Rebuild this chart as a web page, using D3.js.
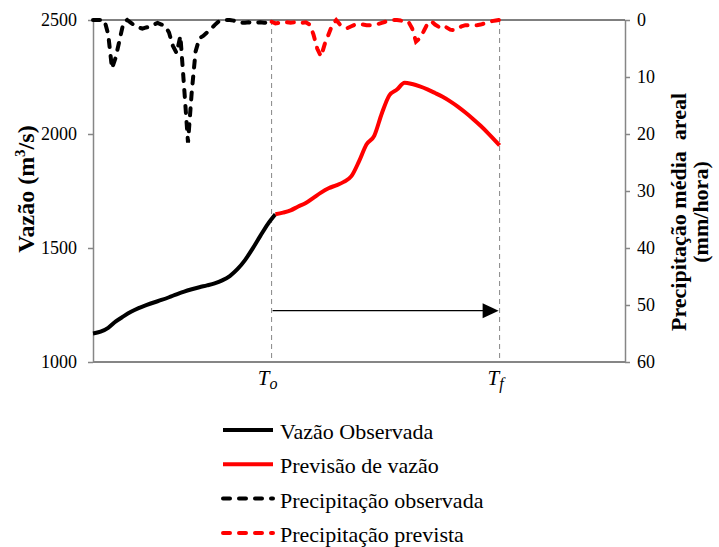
<!DOCTYPE html>
<html>
<head>
<meta charset="utf-8">
<script src="https://cdn.jsdelivr.net/npm/d3@7"></script>
<style>
  body { margin: 0; background: #fff; }
</style>
</head>
<body>
<div id="chart"></div>
<script>
var serif = "'Liberation Serif', 'Times New Roman', Times, serif"

// hours of the event (To = 47 h, Tf = 107 h)
var tStart = 47
var tEnd = 107

// observed areal rainfall, one value per hour from 0 to 47 (mm/hora)
var obsPrecip = [0, 0, 0, 0, 2.5, 8.5, 6.5, 3.5, 0.5, 0,
  0.5, 1, 1.3, 1.5, 1.3, 1.2, 0.8, 0.5, 0.8, 1,
  2.2, 4.5, 5.8, 2.8, 12, 21.5, 12.5, 5.5, 3.2, 2.8,
  2.2, 1.6, 0.9, 0.3, 0, 0, 0, 0.1, 0.4, 0.5,
  0.5, 0.4, 0.5, 0.5, 0.4, 0.5, 0.4, 0.2]

// forecast areal rainfall, one value per hour from 47 to 107
var prevPrecip = [0.3, 0.6, 0.5, 0.3, 0.4, 0.5, 0.4, 0.3, 0.5, 0.4,
  0.8, 2.5, 5, 6.4, 4.2, 2.5, 0.8, 0, 0.8, 1.3,
  1.4, 1.1, 0.8, 0.7, 0.8, 0.9, 0.9, 0.8, 0.7, 0.5,
  0.3, 0.2, 0, 0, 0.1, 0.2, 0.3, 1.5, 3.8, 3.2,
  2, 0.7, 0.2, 0.8, 1.2, 0.9, 1.3, 1.7, 1.8, 1.5,
  1.1, 0.9, 0.9, 0.9, 0.9, 0.8, 0.6, 0.4, 0.2, 0.1, 0]

// observed discharge (m3/s)
var obsHours = [0, 2, 4, 6, 8, 10, 12, 14, 16, 18, 20, 22, 24, 26, 28, 30, 32, 34, 36, 38, 40, 42, 44, 46, 48]
var obsFlow = [1125, 1133, 1150, 1178, 1200, 1220, 1236, 1249, 1261, 1272, 1284, 1297, 1309, 1319, 1328, 1336, 1345, 1358, 1377, 1407, 1447, 1497, 1552, 1605, 1648]

// forecast discharge (m3/s)
var prevHours = [48, 50, 52, 54, 56, 58, 60, 62, 64, 66, 68, 70, 72, 74, 76, 78, 80, 82, 84, 86, 88, 90, 92, 94, 96, 98, 100, 102, 104, 106, 107]
var prevFlow = [1648, 1655, 1665, 1682, 1697, 1720, 1743, 1762, 1775, 1790, 1815, 1880, 1955, 1992, 2090, 2170, 2195, 2225, 2219, 2209, 2196, 2180, 2163, 2143, 2120, 2094, 2066, 2036, 2003, 1968, 1950]

var flowTicks = [1000, 1500, 2000, 2500]
var precipTicks = [0, 10, 20, 30, 40, 50, 60]
var arrowLevel = 51

var legendItems = [
  {label: "Vazão Observada", color: "#000", dash: null},
  {label: "Previsão de vazão", color: "#ff0000", dash: null},
  {label: "Precipitação observada", color: "#000", dash: "7,9"},
  {label: "Precipitação prevista", color: "#ff0000", dash: "7,9"}
]

var margin = {top: 20, right: 94, bottom: 185, left: 93},
    width = 719 - margin.left - margin.right,
    height = 547 - margin.top - margin.bottom

var svg = d3.select("#chart")
.append("svg")
.attr("width", 719)
.attr("height", 547)
.style("font-family", serif)

var chart = svg.append("g")
.attr("transform", "translate(" + margin.left + "," + margin.top + ")")

var x = d3.scaleLinear()
.domain([0, 140])
.range([0, width])

var yFlow = d3.scaleLinear()
.domain([1000, 2500])
.range([height, 0])

var yPrec = d3.scaleLinear()
.domain([0, 60])
.range([0, height])

// left axis
var leftAxis = chart.append("g")
.call(d3.axisLeft(yFlow).tickValues(flowTicks).tickFormat(d3.format("d"))
  .tickSize(5).tickSizeOuter(0).tickPadding(11))
leftAxis.select(".domain").attr("stroke", "#868686").attr("stroke-width", 1.5)
leftAxis.selectAll(".tick line").attr("stroke", "#868686").attr("stroke-width", 1.5)

// right axis
var rightAxis = chart.append("g")
.attr("transform", "translate(" + width + ",0)")
.call(d3.axisRight(yPrec).tickValues(precipTicks).tickFormat(d3.format("d"))
  .tickSize(5).tickSizeOuter(0).tickPadding(7))
rightAxis.select(".domain").attr("stroke", "#868686").attr("stroke-width", 1.5)
rightAxis.selectAll(".tick line").attr("stroke", "#868686").attr("stroke-width", 1.5)

chart.selectAll(".tick text")
.attr("fill", "#000")
.style("font-size", "18px")

// bottom axis line and top (precipitation) axis line
chart.append("line")
.attr("x1", 0).attr("x2", width)
.attr("y1", height).attr("y2", height)
.attr("stroke", "#868686")
.attr("stroke-width", 2)

chart.append("line")
.attr("x1", 0).attr("x2", width)
.attr("y1", yPrec(0)).attr("y2", yPrec(0))
.attr("stroke", "#000")
.attr("stroke-width", 1)

// To and Tf markers
chart.selectAll(".tmark")
.data([tStart, tEnd])
.enter()
.append("line")
.attr("class", "tmark")
.attr("x1", d => x(d)).attr("x2", d => x(d))
.attr("y1", 0).attr("y2", height)
.attr("stroke", "#868686")
.attr("stroke-width", 1)
.attr("stroke-dasharray", "5,4")

var tLabels = [{t: tStart, sub: "o"}, {t: tEnd, sub: "f"}]
tLabels.forEach(function(d) {
  var lab = chart.append("text")
  .attr("x", x(d.t) - 4)
  .attr("y", height + 23)
  .attr("text-anchor", "middle")
  .style("font-size", "21px")
  .style("font-style", "italic")
  lab.append("tspan").text("T")
  lab.append("tspan").attr("dy", 4).style("font-size", "16px").text(d.sub)
})

// arrow from To to Tf
chart.append("line")
.attr("x1", x(tStart) + 1)
.attr("x2", x(tEnd) - 14)
.attr("y1", yPrec(arrowLevel)).attr("y2", yPrec(arrowLevel))
.attr("stroke", "#000")
.attr("stroke-width", 1.2)

chart.append("path")
.attr("d", "M" + (x(tEnd) - 1) + "," + yPrec(arrowLevel)
  + "L" + (x(tEnd) - 17) + "," + (yPrec(arrowLevel) - 7.5)
  + "L" + (x(tEnd) - 17) + "," + (yPrec(arrowLevel) + 7.5) + "Z")
.attr("fill", "#000")

// precipitation lines
var precLine = d3.line()
.x(d => x(d.t))
.y(d => yPrec(d.v))

var obsPrecData = obsPrecip.map((v, i) => ({t: i, v: v}))
var prevPrecData = prevPrecip.map((v, i) => ({t: tStart + i, v: v}))

chart.append("path")
.datum(obsPrecData)
.attr("d", precLine)
.attr("fill", "none")
.attr("stroke", "#000")
.attr("stroke-width", 4)
.attr("stroke-linecap", "round")
.attr("stroke-dasharray", "7,9")

chart.append("path")
.datum(prevPrecData)
.attr("d", precLine)
.attr("fill", "none")
.attr("stroke", "#ff0000")
.attr("stroke-width", 4)
.attr("stroke-linecap", "round")
.attr("stroke-dasharray", "7,9")

// discharge lines
var flowLine = d3.line()
.x(d => x(d.t))
.y(d => yFlow(d.v))
.curve(d3.curveMonotoneX)

chart.append("path")
.datum(obsHours.map((t, i) => ({t: t, v: obsFlow[i]})))
.attr("d", flowLine)
.attr("fill", "none")
.attr("stroke", "#000")
.attr("stroke-width", 4)

chart.append("path")
.datum(prevHours.map((t, i) => ({t: t, v: prevFlow[i]})))
.attr("d", flowLine)
.attr("fill", "none")
.attr("stroke", "#ff0000")
.attr("stroke-width", 4)

// axis titles
var leftTitle = svg.append("text")
.attr("transform", "translate(34," + (margin.top + height / 2 - 2) + ") rotate(-90)")
.attr("text-anchor", "middle")
.style("font-size", "24px")
.style("font-weight", "bold")
leftTitle.append("tspan").text("Vazão (m")
leftTitle.append("tspan").attr("dy", -9).style("font-size", "15px").text("3")
leftTitle.append("tspan").attr("dy", 9).text("/s)")

var rightTitle = svg.append("text")
.attr("transform", "translate(686," + (margin.top + height / 2 + 21) + ") rotate(-90)")
.attr("text-anchor", "middle")
.style("font-size", "22px")
.style("font-weight", "bold")
rightTitle.append("tspan").attr("x", 0).attr("y", 0).text("Precipitação média\u00a0 areal")
rightTitle.append("tspan").attr("x", 0).attr("y", 22).text("(mm/hora)")

// legend
var legend = svg.append("g")
.attr("transform", "translate(223,430)")

var rows = legend.selectAll("g")
.data(legendItems)
.enter()
.append("g")
.attr("transform", (d, i) => "translate(0," + (i * 34.3) + ")")

rows.append("line")
.attr("x1", 0).attr("x2", 50)
.attr("y1", 0).attr("y2", 0)
.attr("stroke", d => d.color)
.attr("stroke-width", 4)
.attr("stroke-dasharray", d => d.dash)
.attr("stroke-linecap", d => d.dash ? "round" : "butt")

rows.append("text")
.attr("x", 57)
.attr("y", 9)
.style("font-size", "22px")
.text(d => d.label)

// axis groups set their own font-family; force the serif face on every text
svg.selectAll("text").style("font-family", serif)
</script>
</body>
</html>
